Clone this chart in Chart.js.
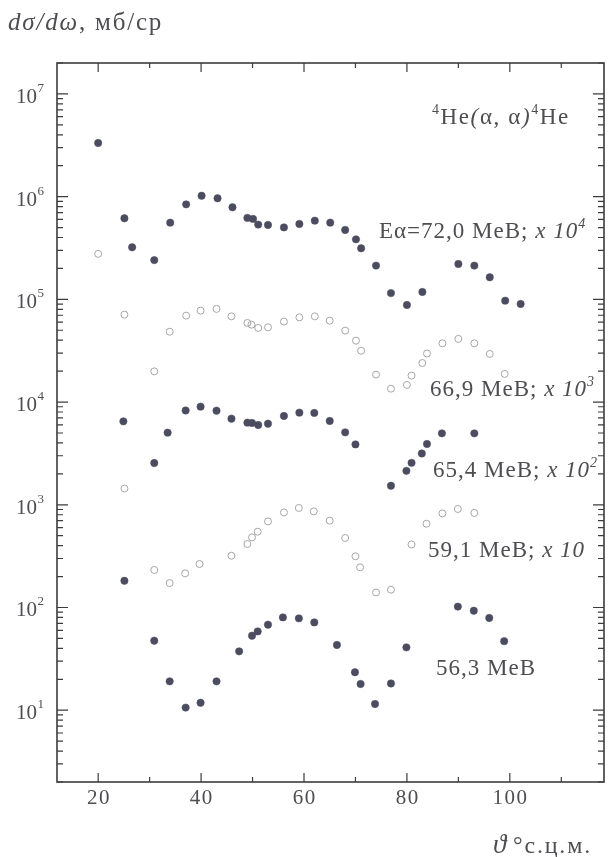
<!DOCTYPE html>
<html>
<head>
<meta charset="utf-8">
<script src="https://cdn.jsdelivr.net/npm/chart.js@4.4.1/dist/chart.umd.min.js"></script>
<style>
  html, body { margin: 0; padding: 0; background: #ffffff; }
  #wrap { width: 609px; height: 857px; position: relative; }
</style>
</head>
<body>
<div id="wrap"><canvas id="c" width="609" height="857"></canvas></div>
<script>
// 4He(α,α)4He elastic scattering, dσ/dω (mb/sr) vs c.m. angle (degrees).
// Each energy is already multiplied by its offset factor.

const angles72 = [20.0, 25.1, 26.6, 30.9, 34.0, 37.1, 40.1, 43.2, 46.1, 49.0, 50.1, 51.1, 53.0, 56.1, 59.1,
  62.1, 65.1, 68.0, 70.1, 71.1, 74.0, 76.9, 80.0, 83.0, 90.0, 93.1, 96.1, 99.1, 102.1];
const sigma72 = [3.33e6, 6.15e5, 3.21e5, 2.41e5, 5.58e5, 8.41e5, 1.02e6, 9.63e5, 7.87e5, 6.21e5, 6.07e5, 5.34e5, 5.30e5, 5.02e5, 5.42e5,
  5.84e5, 5.58e5, 4.74e5, 3.84e5, 3.14e5, 2.13e5, 1.15e5, 8.81e4, 1.18e5, 2.21e5, 2.13e5, 1.64e5, 9.71e4, 9.02e4];

const angles669 = [20.0, 25.1, 30.9, 33.9, 37.1, 39.9, 43.0, 45.9, 49.0, 49.8, 51.1, 53.0, 56.1, 59.1, 62.1,
  65.0, 68.0, 70.1, 71.1, 74.0, 76.9, 80.0, 80.9, 83.0, 83.9, 86.9, 90.0, 93.1, 96.1, 99.0];
const sigma669 = [2.77e5, 7.10e4, 1.99e4, 4.84e4, 6.94e4, 7.76e4, 8.07e4, 6.83e4, 5.89e4, 5.67e4, 5.27e4, 5.34e4, 6.07e4, 6.68e4, 6.83e4,
  6.20e4, 4.96e4, 3.96e4, 3.16e4, 1.85e4, 1.35e4, 1.47e4, 1.81e4, 2.40e4, 2.97e4, 3.73e4, 4.12e4, 3.73e4, 2.94e4, 1.88e4];

const angles654 = [24.9, 30.9, 33.5, 37.0, 39.9, 43.0, 45.9, 49.0, 49.9, 51.1, 53.0, 56.1, 59.1, 62.0, 65.0,
  68.0, 70.0, 76.9, 79.9, 80.9, 82.9, 83.9, 86.8, 93.1];
const sigma654 = [6.49e3, 2.55e3, 5.04e3, 8.28e3, 9.02e3, 8.24e3, 6.89e3, 6.30e3, 6.26e3, 5.98e3, 6.16e3, 7.32e3, 7.89e3, 7.84e3, 6.55e3,
  5.07e3, 3.87e3, 1.53e3, 2.14e3, 2.56e3, 3.16e3, 3.91e3, 4.96e3, 4.96e3];

const angles591 = [25.1, 30.9, 33.9, 36.9, 39.7, 45.9, 49.0, 49.9, 51.0, 53.0, 56.1, 59.0, 61.9, 65.0, 68.0,
  70.0, 70.9, 74.0, 76.9, 80.9, 83.8, 86.9, 89.9, 93.1];
const sigma591 = [1440, 232, 173, 215, 265, 319, 415, 482, 547, 689, 843, 931, 863, 700, 475,
  315, 246, 140, 149, 411, 654, 824, 910, 832];

const angles563 = [25.1, 30.9, 33.9, 37.0, 39.9, 43.0, 47.4, 49.9, 51.0, 53.0, 55.9, 59.0, 62.0, 66.4, 69.9,
  71.0, 73.8, 76.9, 79.9, 89.9, 93.0, 96.0, 98.9];
const sigma563 = [182, 47.5, 19.1, 10.6, 11.8, 19.1, 37.4, 53.1, 58.5, 68.0, 80.1, 78.4, 71.6, 43.2, 23.4,
  18.0, 11.5, 18.2, 40.9, 102, 93.1, 79.1, 47.0];

// axis ticks
const xMajorTicks = [20, 40, 60, 80, 100];
const xMinorTicks = [30, 50, 70, 90, 110];
const yDecadeExponents = [1, 2, 3, 4, 5, 6, 7];

const INK = '#4e4e52';
const FILLED = '#4b4c5f';
const HOLLOW = '#a6a6a9';
const SERIF = '"Liberation Serif", "DejaVu Serif", serif';

function pts(xs, ys) { return xs.map((x, i) => ({ x: x, y: ys[i] })); }

function filledSet(xs, ys) {
  return { data: pts(xs, ys), pointRadius: 3.7, pointBackgroundColor: FILLED, pointBorderColor: FILLED,
           pointBorderWidth: 0.5, showLine: false };
}
function hollowSet(xs, ys) {
  return { data: pts(xs, ys), pointRadius: 3.5, pointBackgroundColor: 'rgba(255,255,255,0)', pointBorderColor: HOLLOW,
           pointBorderWidth: 1, showLine: false };
}

// text with extra tracking, drawn glyph by glyph; returns the end x
function spaced(ctx, text, x, y, track) {
  let cx = x;
  for (const ch of text) {
    ctx.fillText(ch, cx, y);
    cx += ctx.measureText(ch).width + track;
  }
  return cx;
}

// draw a sequence of text runs (normal / italic / superscript) starting at x, baseline y
function drawRuns(ctx, x, y, runs, size, track) {
  ctx.textBaseline = 'alphabetic';
  ctx.textAlign = 'left';
  let cx = x;
  runs.forEach(r => {
    const s = r.sup ? Math.round(size * 0.6) : (r.size || size);
    ctx.font = (r.it ? 'italic ' : '') + s + 'px ' + SERIF;
    const dy = r.sup ? -size * 0.42 : 0;
    cx = spaced(ctx, r.t, cx, y + dy, track) + (r.gap || 0);
  });
  return cx;
}

const decorations = {
  id: 'decorations',
  afterDatasetsDraw(chart) {
    const ctx = chart.ctx;
    const a = chart.chartArea;
    const xs = chart.scales.x, ys = chart.scales.y;
    ctx.save();
    ctx.strokeStyle = '#3c3c40';
    ctx.fillStyle = INK;

    // frame
    ctx.lineWidth = 1.6;
    ctx.strokeRect(a.left, a.top, a.right - a.left, a.bottom - a.top);

    // x ticks, pointing inward on bottom and top
    ctx.lineWidth = 1.2;
    const xt = (v, len) => {
      const p = xs.getPixelForValue(v);
      ctx.beginPath();
      ctx.moveTo(p, a.bottom); ctx.lineTo(p, a.bottom - len);
      ctx.moveTo(p, a.top); ctx.lineTo(p, a.top + len);
      ctx.stroke();
    };
    xMajorTicks.forEach(v => xt(v, 9));
    xMinorTicks.forEach(v => xt(v, 5));

    // y ticks, inward on left and right
    const yt = (v, len) => {
      const p = ys.getPixelForValue(v);
      if (p < a.top - 0.5 || p > a.bottom + 0.5) return;
      ctx.beginPath();
      ctx.moveTo(a.left, p); ctx.lineTo(a.left + len, p);
      ctx.moveTo(a.right, p); ctx.lineTo(a.right - len, p);
      ctx.stroke();
    };
    for (let e = 0; e <= 7; e++) {
      for (let m = 1; m <= 9; m++) {
        const v = m * Math.pow(10, e);
        yt(v, m === 1 ? 11 : 6);
      }
    }

    // x tick labels
    ctx.font = '21px ' + SERIF;
    ctx.textBaseline = 'middle';
    ctx.textAlign = 'left';
    xMajorTicks.forEach(v => {
      const s = String(v);
      let w = 0;
      for (const ch of s) w += ctx.measureText(ch).width + 1.5;
      w -= 1.5;
      spaced(ctx, s, xs.getPixelForValue(v) - w / 2, a.bottom + 16, 1.5);
    });

    // y decade labels 10^n
    yDecadeExponents.forEach(e => {
      const p = ys.getPixelForValue(Math.pow(10, e));
      ctx.font = '21px ' + SERIF;
      ctx.textAlign = 'right';
      ctx.textBaseline = 'alphabetic';
      ctx.fillText('10', 37, p + 9);
      ctx.font = '13px ' + SERIF;
      ctx.textAlign = 'left';
      ctx.fillText(String(e), 37.5, p - 2);
    });

    // axis titles
    drawRuns(ctx, 8, 30, [
      { t: 'dσ/dω', it: true },
      { t: ', мб/ср' }
    ], 25, 1.8);
    drawRuns(ctx, 493, 853, [
      { t: 'ϑ', it: true, gap: 5, size: 27 },
      { t: '°с.ц.м.' }
    ], 24, 1.8);

    // reaction and energy labels
    drawRuns(ctx, 432, 124, [
      { t: '4', sup: true }, { t: 'He' }, { t: '(', it: true }, { t: 'α, α' }, { t: ')', it: true },
      { t: '4', sup: true }, { t: 'He' }
    ], 23, 1.6);
    drawRuns(ctx, 379, 238, [
      { t: 'Eα=72,0 МеВ; ' }, { t: 'x 10', it: true }, { t: '4', it: true, sup: true }
    ], 23, 1);
    drawRuns(ctx, 430, 396, [
      { t: '66,9 МеВ; ' }, { t: 'x 10', it: true }, { t: '3', it: true, sup: true }
    ], 23, 1);
    drawRuns(ctx, 433, 477, [
      { t: '65,4 МеВ; ' }, { t: 'x 10', it: true }, { t: '2', it: true, sup: true }
    ], 23, 1);
    drawRuns(ctx, 428, 557, [
      { t: '59,1 МеВ; ' }, { t: 'x 10', it: true }
    ], 23, 1);
    drawRuns(ctx, 436, 675, [
      { t: '56,3 МеВ' }
    ], 23, 1);

    ctx.restore();
  }
};

new Chart(document.getElementById('c'), {
  type: 'scatter',
  data: {
    datasets: [
      filledSet(angles72, sigma72),
      hollowSet(angles669, sigma669),
      filledSet(angles654, sigma654),
      hollowSet(angles591, sigma591),
      filledSet(angles563, sigma563)
    ]
  },
  options: {
    responsive: false,
    animation: false,
    devicePixelRatio: 1,
    layout: { padding: { left: 57, top: 63, right: 3, bottom: 75 } },
    plugins: { legend: { display: false }, tooltip: { enabled: false } },
    scales: {
      x: { type: 'linear', display: false, min: 12, max: 118.3 },
      y: { type: 'logarithmic', display: false, min: 2, max: 2e7 }
    }
  },
  plugins: [decorations]
});
</script>
</body>
</html>
